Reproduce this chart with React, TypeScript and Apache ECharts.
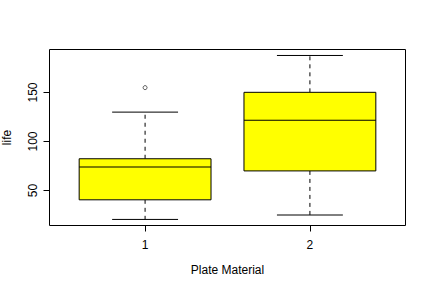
import React, { useEffect, useRef } from "react";
import * as echarts from "echarts";

const categories = [1, 2];
const lowWhisker = [20.5, 25];
const q1 = [40.5, 70];
const medians = [74, 121.7];
const q3 = [82.4, 150.2];
const highWhisker = [130, 187.8];
const outliers: [number, number][] = [[1, 155]];
const yTicks = [50, 100, 150];

export default function App() {
  const ref = useRef<HTMLDivElement>(null);
  useEffect(() => {
    if (!ref.current) return;
    const chart = echarts.init(ref.current, null, { renderer: "svg" });
    const font = "'Liberation Sans', Arial, Helvetica, sans-serif";
    const boxData = categories.map((c, i) => [c, lowWhisker[i], q1[i], medians[i], q3[i], highWhisker[i]]);
    chart.setOption({
      animation: false,
      backgroundColor: "#ffffff",
      grid: {
        left: 49.5,
        right: 26.5,
        top: 49.5,
        bottom: 62.5,
        containLabel: false,
        outerBoundsMode: "none",
        show: true,
        borderColor: "#000",
        borderWidth: 1,
        backgroundColor: "transparent",
      },
      xAxis: {
        type: "value",
        min: 0.42,
        max: 2.58,
        name: "Plate Material",
        nameLocation: "middle",
        nameGap: 38,
        nameTextStyle: { color: "#000", fontSize: 12, fontFamily: font },
        axisLine: { show: false },
        splitLine: { show: false },
        axisTick: { show: true, customValues: categories, length: 6, lineStyle: { color: "#000" } },
        axisLabel: {
          customValues: categories,
          color: "#000",
          fontSize: 12,
          fontFamily: font,
          margin: 13,
          formatter: (v: number) => String(v),
        },
      },
      yAxis: {
        type: "value",
        min: 14.3,
        max: 193.9,
        name: "life",
        nameLocation: "middle",
        nameRotate: 90,
        nameGap: 37,
        nameTextStyle: { color: "#000", fontSize: 12, fontFamily: font },
        axisLine: { show: false },
        splitLine: { show: false },
        axisTick: { show: true, customValues: yTicks, length: 6, lineStyle: { color: "#000" } },
        axisLabel: {
          customValues: yTicks,
          rotate: 90,
          color: "#000",
          fontSize: 12,
          fontFamily: font,
          margin: 11,
        },
      },
      series: [
        {
          type: "custom",
          data: boxData,
          encode: { x: 0, y: [1, 2, 3, 4, 5] },
          renderItem: (params: any, api: any) => {
            const x = api.value(0);
            const pMin = api.coord([x, api.value(1)]);
            const pQ1 = api.coord([x, api.value(2)]);
            const pMed = api.coord([x, api.value(3)]);
            const pQ3 = api.coord([x, api.value(4)]);
            const pMax = api.coord([x, api.value(5)]);
            const half = api.size([0.4, 0])[0];
            const cap = api.size([0.2, 0])[0];
            const cx = pMed[0];
            const black = { stroke: "#000", lineWidth: 1 };
            return {
              type: "group",
              children: [
                { type: "line", shape: { x1: cx, y1: pQ1[1], x2: cx, y2: pMin[1] }, style: { ...black, lineDash: [4, 4] } },
                { type: "line", shape: { x1: cx, y1: pQ3[1], x2: cx, y2: pMax[1] }, style: { ...black, lineDash: [4, 4] } },
                { type: "line", shape: { x1: cx - cap, y1: pMin[1], x2: cx + cap, y2: pMin[1] }, style: black },
                { type: "line", shape: { x1: cx - cap, y1: pMax[1], x2: cx + cap, y2: pMax[1] }, style: black },
                {
                  type: "rect",
                  shape: { x: cx - half, y: pQ3[1], width: half * 2, height: pQ1[1] - pQ3[1] },
                  style: { fill: "#ffff00", ...black },
                },
                { type: "line", shape: { x1: cx - half, y1: pMed[1], x2: cx + half, y2: pMed[1] }, style: { stroke: "#000", lineWidth: 1.2 } },
              ],
            };
          },
        },
        {
          type: "scatter",
          data: outliers,
          symbol: "circle",
          symbolSize: 4,
          itemStyle: { color: "#fff", borderColor: "#000", borderWidth: 0.8 },
        },
      ],
    });
    return () => chart.dispose();
  }, []);
  return <div ref={ref} style={{ position: "absolute", left: 0, top: 0, width: 432, height: 288 }} />;
}
